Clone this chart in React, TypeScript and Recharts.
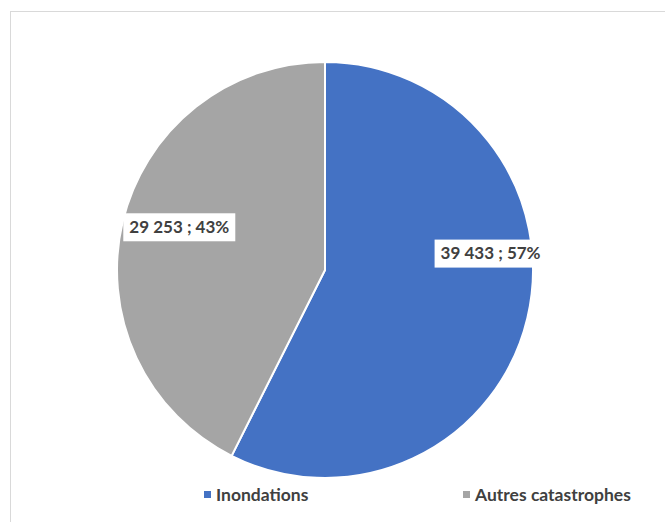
import { PieChart, Pie, Cell, Legend } from 'recharts';

// Répartition des sinistres
const categories = ['Inondations', 'Autres catastrophes'];
const values = [39433, 29253];
const colors = ['#4472C4', '#A5A5A5'];

const chartData = categories.map((name, i) => ({ name, value: values[i] }));
const total = values.reduce((a, b) => a + b, 0);

const formatValue = (v: number) => v.toLocaleString('fr-FR').replace(/\s/g, ' ');

const RAD = Math.PI / 180;

// Excel "best fit" puts the labels a bit off the slice middle
const labelShift = [19, -3];
const labelRadius = [0.8, 0.73];

const renderLabel = (props: any) => {
  const { cx, cy, midAngle, outerRadius, value, index } = props;
  const angle = midAngle + labelShift[index];
  const r = outerRadius * labelRadius[index];
  const x = cx + r * Math.cos(-angle * RAD);
  const y = cy + r * Math.sin(-angle * RAD);
  const text = `${formatValue(value)} ; ${Math.round((value / total) * 100)}%`;
  return (
    <g>
      <rect x={x - 56} y={y - 14} width={112} height={28} fill="#fff" />
      <text
        x={x}
        y={y + 1}
        textAnchor="middle"
        dominantBaseline="middle"
        fill="#404040"
        style={{ fontFamily: 'Lato', fontWeight: 700, fontSize: 17 }}
      >
        {text}
      </text>
    </g>
  );
};

const legendPos = [204, 463];

const renderLegend = () => (
  <div style={{ position: 'relative', height: 24 }}>
    {categories.map((name, i) => (
      <div
        key={name}
        style={{
          position: 'absolute',
          left: legendPos[i],
          top: 0,
          display: 'flex',
          alignItems: 'center',
          fontFamily: 'Lato',
          fontWeight: 700,
          fontSize: 17.5,
          color: '#404040',
        }}
      >
        <span style={{ width: 7, height: 7, background: colors[i], marginRight: 5, display: 'inline-block' }} />
        {name}
      </div>
    ))}
  </div>
);

export default function App() {
  return (
    <div style={{ position: 'absolute', left: 0, top: 0, width: 665, height: 522, background: '#fff', overflow: 'hidden' }}>
      <div
        style={{
          position: 'absolute',
          left: 10,
          top: 11,
          width: 680,
          height: 540,
          borderTop: '1px solid #d9d9d9',
          borderLeft: '1px solid #d9d9d9',
        }}
      />
      <PieChart
        width={665}
        height={522}
        margin={{ top: 0, right: 0, bottom: 0, left: 0 }}
        style={{ position: 'absolute', left: 0, top: 0 }}
      >
        <Pie
          data={chartData}
          dataKey="value"
          nameKey="name"
          cx={325}
          cy={270}
          outerRadius={208}
          startAngle={90}
          endAngle={-270}
          stroke="#fff"
          strokeWidth={2}
          label={renderLabel}
          labelLine={false}
          isAnimationActive={false}
        >
          {chartData.map((d, i) => (
            <Cell key={d.name} fill={colors[i]} />
          ))}
        </Pie>
        <Legend
          content={renderLegend}
          wrapperStyle={{ position: 'absolute', left: 0, top: 484, width: 665 }}
        />
      </PieChart>
    </div>
  );
}
